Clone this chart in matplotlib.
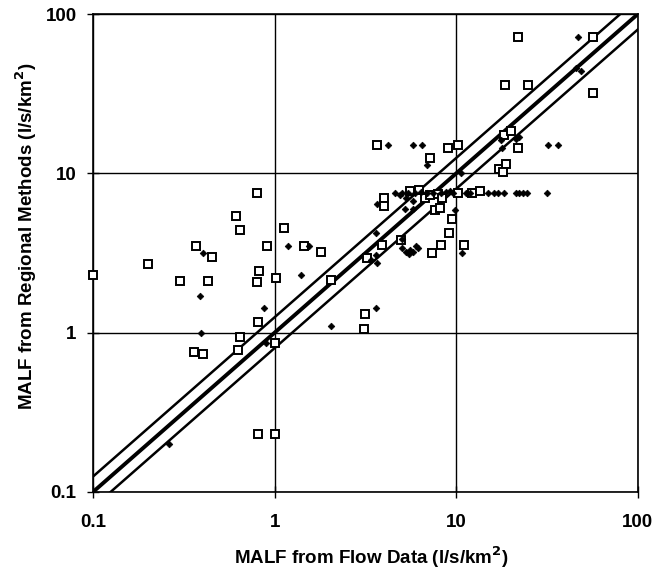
import matplotlib.pyplot as plt
import numpy as np

plt.rcParams['font.family'] = ['Liberation Sans', 'DejaVu Sans']

# open squares: (flow data, regional method)
sq_x = [0.1, 0.2, 0.3, 0.37, 0.45, 0.43, 0.36, 0.40, 0.63, 0.64, 0.61, 0.64, 0.8, 0.82, 0.8,
        0.81, 0.91, 1.01, 1.0, 1.13, 1.45, 1.8, 2.03, 0.81, 1.0, 3.1, 3.15, 3.24, 3.92, 4.94,
        7.4, 8.3, 9.1, 9.5, 11.1, 4.0, 4.0, 5.6, 6.25, 6.7, 7.2, 7.9, 8.4, 7.6, 8.1, 10.2,
        12.3, 13.5, 3.65, 9.0, 10.2, 7.2, 17.3, 18.8, 18.2, 18.4, 20.1, 21.8, 18.7, 24.8,
        57, 21.8, 57]
sq_y = [2.3, 2.7, 2.1, 3.5, 3.0, 2.1, 0.76, 0.73, 0.78, 0.94, 5.4, 4.4, 7.5, 2.45, 2.07,
        1.16, 3.5, 2.2, 0.86, 4.55, 3.5, 3.2, 2.14, 0.23, 0.23, 1.06, 1.31, 2.93, 3.55, 3.8,
        3.17, 3.55, 4.24, 5.14, 3.55, 7.0, 6.2, 7.7, 7.9, 7.0, 7.3, 7.4, 7.0, 5.9, 6.1, 7.55,
        7.55, 7.8, 15.0, 14.5, 15.1, 12.5, 10.7, 11.4, 10.2, 17.4, 18.4, 14.4, 36, 36,
        32, 71.5, 72]

# filled diamonds
dm_x = [0.26, 0.39, 0.385, 0.40, 0.87, 0.89, 1.19, 1.54, 1.4, 2.03, 3.6, 3.6, 3.67, 3.4,
        3.6, 3.65, 4.2, 5.8, 6.5, 6.9, 10.6,
        4.6, 4.9, 5.3, 5.2, 5.8, 5.8, 5.0, 5.4, 5.9, 6.4, 6.9, 7.5, 8.2, 8.8, 9.2, 9.6,
        11.4, 11.9, 14.9, 16.2, 17.0, 18.4, 21.3, 22.2, 23.3, 24.5, 31.6,
        9.9, 5.0, 5.0, 5.3, 5.6, 6.0, 5.5, 5.8, 6.2, 10.8,
        17.7, 17.9, 22.3, 21.5, 32.2, 36.3, 47, 46, 49]
dm_y = [0.2, 1.0, 1.7, 3.15, 1.42, 0.86, 3.5, 3.5, 2.3, 1.1, 1.42, 4.2, 2.72, 2.85,
        3.05, 6.4, 15, 15, 15, 11.3, 10.0,
        7.55, 7.3, 7.0, 6.0, 6.0, 6.7, 7.55, 7.55, 7.55, 7.6, 7.55, 7.55, 7.55, 7.6, 7.7, 7.55,
        7.55, 7.55, 7.55, 7.55, 7.55, 7.55, 7.55, 7.55, 7.55, 7.55, 7.55,
        5.9, 3.9, 3.4, 3.2, 3.3, 3.5, 3.1, 3.2, 3.4, 3.17,
        16.2, 14.4, 17.0, 16.5, 15, 15, 72, 46, 44]

band = 1.25  # +/- 25% lines

fig = plt.figure(figsize=(6.69, 5.72), dpi=100)
ax = fig.add_axes([0.1395, 0.1404, 0.8135, 0.8346])
ax.set_xscale('log')
ax.set_yscale('log')
ax.set_xlim(0.1, 100)
ax.set_ylim(0.1, 100)

line = np.array([0.1, 100])
ax.plot(line, line, color='black', lw=2.8, zorder=3)
ax.plot(line, line * band, color='black', lw=1.8, zorder=3)
ax.plot(line, line / band, color='black', lw=1.8, zorder=3)

ax.plot(sq_x, sq_y, 's', ms=5.8, mfc='white', mec='black', mew=1.4, ls='none', zorder=4,
        clip_on=False)
ax.plot(dm_x, dm_y, 'D', ms=3.4, mfc='black', mec='black', mew=0.5, ls='none', zorder=5)

ax.grid(True, which='major', color='black', lw=1)
ax.minorticks_off()
ax.set_xticks([0.1, 1, 10, 100])
ax.set_xticklabels(['0.1', '1', '10', '100'])
ax.set_yticks([0.1, 1, 10, 100])
ax.set_yticklabels(['0.1', '1', '10', '100'])
ax.tick_params(axis='x', direction='inout', length=8, width=1, labelsize=13.5, pad=12)
ax.tick_params(axis='y', direction='inout', length=8, width=1, labelsize=13.5, pad=8)
for lab in ax.get_xticklabels() + ax.get_yticklabels():
    lab.set_fontweight('bold')
for s in ax.spines.values():
    s.set_linewidth(1.2)

ax.set_xlabel('MALF from Flow Data (l/s/km$^\\mathbf{2}$)', fontsize=13.5, fontweight='bold')
ax.set_ylabel('MALF from Regional Methods (l/s/km$^\\mathbf{2}$)', fontsize=13.5,
              fontweight='bold')
ax.xaxis.set_label_coords(0.51, -0.11)
ax.yaxis.set_label_coords(-0.10, 0.535)

plt.savefig('out.png', dpi=100)
